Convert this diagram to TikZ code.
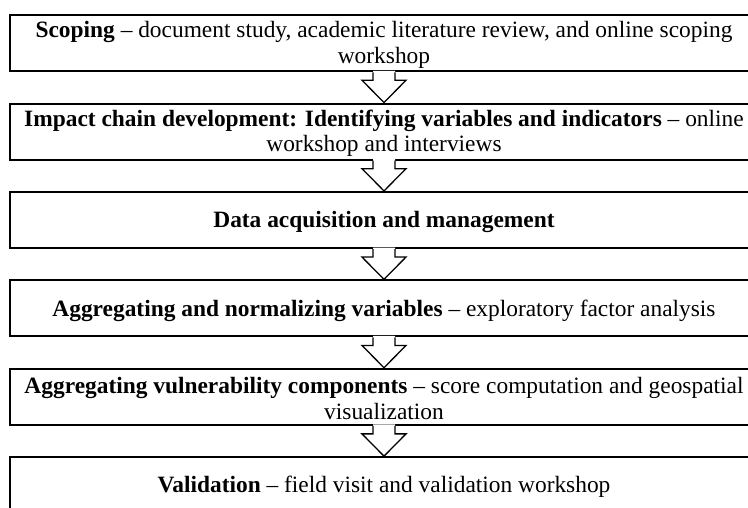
\documentclass[tikz,border=0pt]{standalone}
\usepackage{fontspec}
\setmainfont{Liberation Serif}
\usetikzlibrary{calc}
\begin{document}
\begin{tikzpicture}[x=1pt,y=-1pt,
  stagebox/.style={draw=black, line width=2.1pt, fill=white,
    minimum width=748pt, minimum height=56pt, inner sep=0pt},
  stagetext/.style={inner sep=0pt, align=center,
    font=\fontsize{23.4}{25.5}\selectfont},
  flowline/.style={draw=black, line width=1.3pt, line join=miter}]
\useasboundingbox (0,0) rectangle (748,507);
\clip (0,0) rectangle (748,507);

% stage frames
\node[stagebox] (s1) at (384,43.2) {};
\node[stagebox] (s2) at (384,131.6) {};
\node[stagebox] (s3) at (384,220) {};
\node[stagebox] (s4) at (384,308.4) {};
\node[stagebox] (s5) at (384,396.8) {};
\node[stagebox] (s6) at (384,485.2) {};

% stage captions, set a little below each frame's centre
\node[stagetext] (c1) at ($(s1.center)+(0,1.5)$) {\textbf{Scoping} -- document study, academic literature review, and online scoping\\workshop};
\node[stagetext] (c2) at ($(s2.center)+(0,1.5)$) {\textbf{Impact chain development: Identifying variables and indicators} -- online\\workshop and interviews};
\node[stagetext] (c3) at ($(s3.center)+(0,2)$) {\textbf{Data acquisition and management}};
\node[stagetext] (c4) at ($(s4.center)+(0,2)$) {\textbf{Aggregating and normalizing variables} -- exploratory factor analysis};
\node[stagetext] (c5) at ($(s5.center)+(0,1.5)$) {\textbf{Aggregating vulnerability components} -- score computation and geospatial\\visualization};
\node[stagetext] (c6) at ($(s6.center)+(0,2)$) {\textbf{Validation} -- field visit and validation workshop};

% hollow block arrows joining consecutive stages
\foreach \a/\b in {s1/s2,s2/s3,s3/s4,s4/s5,s5/s6} {
  \path (\a.south) coordinate (tail) (\b.north) coordinate (tip);
  \fill[white] ($(tail)+(-11,-1.5)$) -- ($(tail)+(-11,8)$) -- ($(tail)+(-22,8)$)
    -- (tip) -- ($(tail)+(22,8)$) -- ($(tail)+(11,8)$) -- ($(tail)+(11,-1.5)$) -- cycle;
  \draw[flowline] ($(tail)+(-11,0)$) -- ($(tail)+(-11,8)$) -- ($(tail)+(-22,8)$)
    -- (tip) -- ($(tail)+(22,8)$) -- ($(tail)+(11,8)$) -- ($(tail)+(11,0)$);
}
\end{tikzpicture}
\end{document}
